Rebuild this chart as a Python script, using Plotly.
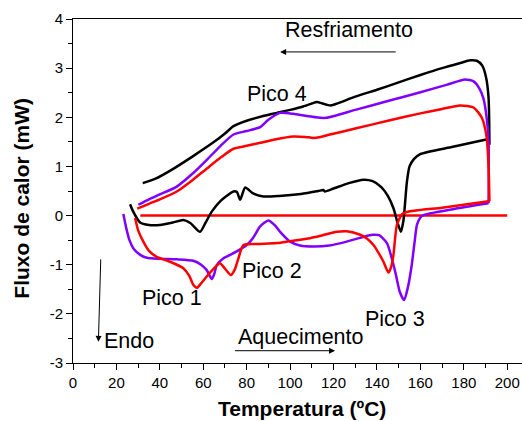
import plotly.graph_objects as go

# ---------------- data ----------------
black_heat_x = [26.3, 27.5, 30.9, 35, 40, 46, 50.8, 54, 58.5, 61, 63.9, 68, 73.9, 75.5, 77, 79.3, 83, 87.7, 95, 105, 113, 115.3, 116, 120, 127, 133.8, 138, 142, 145, 147.6, 149.5, 151, 152.2, 153.8, 155, 157, 159.9, 175, 191.4]
black_heat_y = [0.23, 0.1, -0.14, -0.19, -0.19, -0.14, -0.09, -0.15, -0.33, -0.15, 0.08, 0.3, 0.49, 0.48, 0.32, 0.57, 0.45, 0.39, 0.4, 0.44, 0.5, 0.52, 0.49, 0.55, 0.66, 0.73, 0.7, 0.58, 0.4, 0.15, -0.15, -0.33, -0.1, 0.69, 1.0, 1.15, 1.25, 1.4, 1.56]

black_cool_x = [32.1, 38, 45, 55, 65, 70, 73.9, 80, 88, 93.9, 100, 106, 110, 112.3, 115, 118.4, 121, 130, 140, 150, 160, 170, 178, 183, 186, 188.5, 190.3, 191.4, 191.7, 191.8]
black_cool_y = [0.66, 0.75, 0.92, 1.2, 1.5, 1.67, 1.82, 1.93, 2.03, 2.09, 2.15, 2.22, 2.28, 2.31, 2.28, 2.24, 2.27, 2.42, 2.56, 2.71, 2.86, 3.0, 3.1, 3.16, 3.15, 3.05, 2.8, 2.4, 1.9, 1.44]

purple_heat_x = [23.2, 24.5, 26, 28, 31, 34, 40, 48, 55.4, 59, 61.6, 63.9, 65, 66.2, 69.3, 75, 80, 83, 86.2, 90, 93, 95.4, 100, 104.6, 110.7, 118, 126.1, 134, 138, 141, 144.6, 148.4, 150.5, 152.5, 154.3, 156, 157.3, 158.4, 160, 161.4, 175, 191.4]
purple_heat_y = [0.03, -0.25, -0.5, -0.68, -0.8, -0.86, -0.88, -0.89, -0.92, -1.0, -1.11, -1.29, -1.2, -1.01, -0.87, -0.74, -0.6, -0.45, -0.22, -0.1, -0.2, -0.33, -0.53, -0.61, -0.63, -0.61, -0.53, -0.43, -0.39, -0.4, -0.56, -1.14, -1.55, -1.72, -1.45, -1.01, -0.55, -0.19, -0.04, 0.01, 0.13, 0.25]

purple_cool_x = [30.1, 35, 40, 47.8, 55, 62, 68, 73.9, 80, 86.2, 90, 95.4, 101.5, 107, 113.8, 116.9, 130, 145, 160, 172, 180.6, 184.5, 187, 189, 190.5, 191.4, 191.4]
purple_cool_y = [0.22, 0.33, 0.43, 0.59, 0.85, 1.15, 1.42, 1.65, 1.72, 1.8, 1.95, 2.09, 2.07, 2.03, 1.99, 1.99, 2.15, 2.33, 2.51, 2.66, 2.77, 2.73, 2.6, 2.39, 2.0, 1.51, 0.25]

red_heat_x = [28.6, 30, 32.4, 35, 38.6, 44.7, 50.8, 53.5, 55.4, 57, 59, 61.6, 65, 67.7, 70, 72.7, 74.5, 76.2, 78.5, 85, 93.9, 100, 109.2, 115, 121.5, 126.1, 132.3, 135.5, 138.4, 141, 143, 145.3, 146.5, 147.6, 149.2, 152.2, 170, 191.4]
red_heat_y = [-0.05, -0.3, -0.53, -0.72, -0.84, -0.94, -1.07, -1.22, -1.41, -1.47, -1.38, -1.24, -1.07, -0.97, -1.08, -1.21, -1.1, -0.87, -0.6, -0.58, -0.56, -0.52, -0.46, -0.4, -0.33, -0.32, -0.39, -0.47, -0.6, -0.78, -0.94, -1.16, -1.05, -0.8, -0.19, 0.05, 0.16, 0.29]

red_cool_x = [29.6, 35, 40, 47.8, 55, 62, 68, 73.9, 80, 86.2, 93, 101.5, 107, 110.7, 114, 118.4, 130, 145, 160, 170, 178.3, 184.5, 188.3, 190.5, 191.4, 191.8]
red_cool_y = [0.14, 0.24, 0.33, 0.49, 0.72, 0.97, 1.18, 1.36, 1.42, 1.48, 1.55, 1.61, 1.6, 1.58, 1.6, 1.65, 1.77, 1.93, 2.08, 2.17, 2.24, 2.2, 1.99, 1.6, 1.0, 0.29]

baseline_x = [31, 200]
baseline_y = [0, 0]

x_ticks = [0, 20, 40, 60, 80, 100, 120, 140, 160, 180, 200]
y_ticks = [-3, -2, -1, 0, 1, 2, 3, 4]
y_tick_text = ["-3", "-2", "-1", "0", "1", "2", "3", "4"]

labels = ["Pico 1", "Pico 2", "Pico 3", "Pico 4", "Resfriamento", "Aquecimento", "Endo"]
label_x = [45.5, 91.7, 148.4, 93.9, 127.2, 104.9, 26.0]
label_y = [-1.67, -1.12, -2.11, 2.47, 3.78, -2.47, -2.55]

# arrows: (tail_x, tail_y, head_x, head_y)
arrow_resf = (149.3, 3.33, 95.4, 3.33)
arrow_aque = (73.9, -2.75, 120.7, -2.75)
arrow_endo = (12.8, -0.86, 11.7, -2.57)

RED = "#FF0000"
PURPLE = "#7F00FF"
BLACK = "#000000"
FONT = "Arial, 'Liberation Sans', sans-serif"

fig = go.Figure()

def add(x, y, color):
    fig.add_trace(go.Scatter(x=x, y=y, mode="lines",
                             line=dict(color=color, width=2.5, shape="spline", smoothing=0.6),
                             showlegend=False, hoverinfo="skip"))

add(baseline_x, baseline_y, RED)
add(black_heat_x, black_heat_y, BLACK)
add(black_cool_x, black_cool_y, BLACK)
add(purple_heat_x, purple_heat_y, PURPLE)
add(purple_cool_x, purple_cool_y, PURPLE)
add(red_heat_x, red_heat_y, RED)
add(red_cool_x, red_cool_y, RED)

for t, x, y in zip(labels, label_x, label_y):
    fig.add_annotation(x=x, y=y, text=t, showarrow=False,
                       font=dict(family=FONT, size=21.5, color="black"),
                       xanchor="center", yanchor="middle")

for (tx, ty, hx, hy) in [arrow_resf, arrow_aque, arrow_endo]:
    fig.add_annotation(x=hx, y=hy, ax=tx, ay=ty, xref="x", yref="y",
                       axref="x", ayref="y", text="", showarrow=True,
                       arrowhead=2, arrowsize=1.2, arrowwidth=1, arrowcolor="black")

# axis titles
fig.add_annotation(x=0.51, y=-0.132, xref="paper", yref="paper",
                   text="<b>Temperatura (ºC)</b>", showarrow=False,
                   font=dict(family=FONT, size=21, color="black"),
                   xanchor="center", yanchor="middle")
fig.add_annotation(x=-0.114, y=0.48, xref="paper", yref="paper",
                   text="<b>Fluxo de calor (mW)</b>", showarrow=False, textangle=-90,
                   font=dict(family=FONT, size=21, color="black"),
                   xanchor="center", yanchor="middle")

fig.update_layout(
    width=522, height=421,
    margin=dict(l=73, r=0, t=18.5, b=58.3),
    paper_bgcolor="white", plot_bgcolor="white",
    font=dict(family=FONT, size=15, color="black"),
    xaxis=dict(range=[0, 206.8], tickmode="array", tickvals=x_ticks,
               ticks="outside", ticklen=6, tickwidth=1, tickcolor="black",
               showline=True, linecolor="black", linewidth=1, mirror=True,
               showgrid=False, zeroline=False,
               minor=dict(dtick=10, ticks="outside", ticklen=4, tickcolor="black", showgrid=False),
               tickfont=dict(size=15)),
    yaxis=dict(range=[-3, 4], tickmode="array", tickvals=y_ticks, ticktext=y_tick_text,
               ticks="outside", ticklen=6, tickwidth=1, tickcolor="black",
               showline=True, linecolor="black", linewidth=1, mirror=False,
               showgrid=False, zeroline=False,
               minor=dict(dtick=0.5, ticks="outside", ticklen=4, tickcolor="black", showgrid=False),
               tickfont=dict(size=15)),
)

fig.write_html("out.html")
